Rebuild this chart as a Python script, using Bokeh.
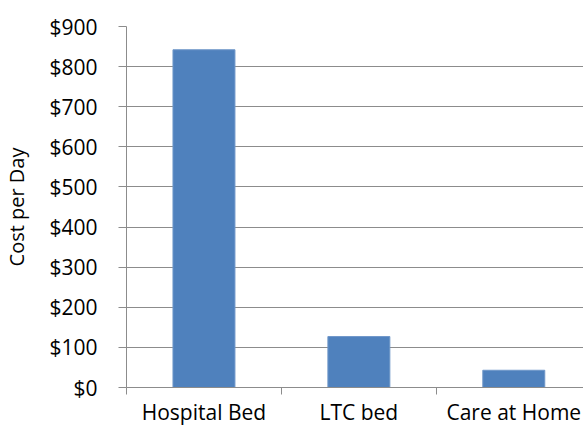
from bokeh.plotting import figure
from bokeh.models import FixedTicker, Range1d, NumeralTickFormatter
from bokeh.embed import file_html
from bokeh.resources import INLINE

categories = ["Hospital Bed", "LTC bed", "Care at Home"]
cost_per_day = [842, 127, 43]
y_ticks = [0, 100, 200, 300, 400, 500, 600, 700, 800, 900]

xs = [i + 0.5 for i in range(len(categories))]

p = figure(width=583, height=428, output_backend="svg", toolbar_location=None,
           x_range=Range1d(0, 2.95), y_range=Range1d(0, 900),
           min_border_left=124, min_border_right=0, min_border_top=26,
           min_border_bottom=39)
p.outline_line_color = None
p.background_fill_color = "white"
p.border_fill_color = "white"

p.vbar(x=xs, top=cost_per_day, width=0.4, color="#4F81BD", line_color="#6f97c9", line_width=1)

grey = "#8c8c8c"
font = "Open Sans"

# y axis
p.yaxis.ticker = FixedTicker(ticks=y_ticks)
p.yaxis.formatter = NumeralTickFormatter(format="$0")
p.yaxis.axis_line_color = grey
p.yaxis.major_tick_line_color = grey
p.yaxis.major_tick_out = 8
p.yaxis.major_tick_in = 0
p.yaxis.minor_tick_line_color = None
p.yaxis.major_label_standoff = 21
p.yaxis.major_label_text_font = font
p.yaxis.major_label_text_font_size = "21px"
p.yaxis.major_label_text_color = "black"
p.yaxis.axis_label = "Cost per Day"
p.yaxis.axis_label_text_font = font
p.yaxis.axis_label_text_font_size = "20px"
p.yaxis.axis_label_text_font_style = "normal"
p.yaxis.axis_label_text_color = "black"
p.yaxis.axis_label_standoff = 16

# x axis: category boundaries as ticks, names at centres
p.xaxis.ticker = FixedTicker(ticks=xs, minor_ticks=[0, 1, 2, 3])
p.xaxis.major_label_overrides = {x: c for x, c in zip(xs, categories)}
p.xaxis.axis_line_color = grey
p.xaxis.major_tick_line_color = None
p.xaxis.major_tick_out = 0
p.xaxis.major_tick_in = 0
p.xaxis.minor_tick_line_color = grey
p.xaxis.minor_tick_out = 7
p.xaxis.minor_tick_in = 0
p.xaxis.major_label_standoff = 3
p.xaxis.major_label_text_font = font
p.xaxis.major_label_text_font_size = "21px"
p.xaxis.major_label_text_color = "black"

p.xgrid.visible = False
p.ygrid.ticker = FixedTicker(ticks=y_ticks)
p.ygrid.grid_line_color = grey
p.ygrid.grid_line_width = 1

open("out.html", "w").write(file_html(p, INLINE))
